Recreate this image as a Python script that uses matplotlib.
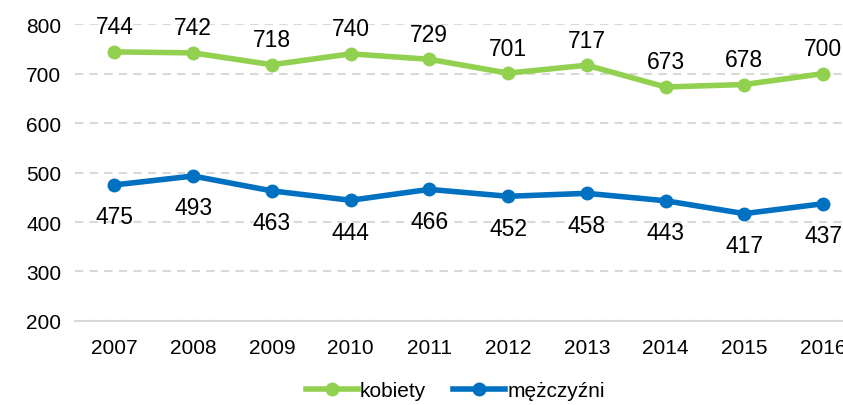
import matplotlib.pyplot as plt

plt.rcParams["font.family"] = ["Liberation Sans", "DejaVu Sans"]

lata = ["2007", "2008", "2009", "2010", "2011", "2012", "2013", "2014", "2015", "2016"]
kobiety = [744, 742, 718, 740, 729, 701, 717, 673, 678, 700]
mezczyzni = [475, 493, 463, 444, 466, 452, 458, 443, 417, 437]

fig = plt.figure(figsize=(8.43, 4.06), dpi=100)
ax = fig.add_axes([0.089, 0.207, 0.934, 0.731])

x = list(range(len(lata)))
ax.plot(x, kobiety, color="#92D050", lw=4, marker="o", ms=9, label="kobiety", zorder=3)
ax.plot(x, mezczyzni, color="#0070C0", lw=4, marker="o", ms=9, label="mężczyźni", zorder=3)

# etykiety danych
for i, v in enumerate(kobiety):
    ax.annotate(str(v), (i, v), xytext=(0, 18), textcoords="offset points",
                ha="center", va="center", fontsize=16.5)
for i, v in enumerate(mezczyzni):
    ax.annotate(str(v), (i, v), xytext=(0, -23), textcoords="offset points",
                ha="center", va="center", fontsize=16.5)

ax.set_xlim(-0.5, 9.5)
ax.set_ylim(200, 800)
ax.set_yticks(range(200, 801, 100))
ax.set_xticks(x)
ax.set_xticklabels(lata)
ax.tick_params(length=0, labelsize=15, pad=12)
ax.tick_params(axis="y", pad=10)

ax.grid(axis="y", color="#D9D9D9", lw=1.5, ls=(0, (4, 3)))
ax.set_axisbelow(True)
for s in ["top", "right", "left"]:
    ax.spines[s].set_visible(False)
ax.spines["bottom"].set_color("#D9D9D9")
ax.spines["bottom"].set_linewidth(1.5)

fig.legend(loc="lower center", bbox_to_anchor=(0.54, -0.035), ncol=2, frameon=False,
           fontsize=15, handlelength=2.5, handletextpad=0.1, columnspacing=1.3)

fig.savefig("out.png", dpi=100)
